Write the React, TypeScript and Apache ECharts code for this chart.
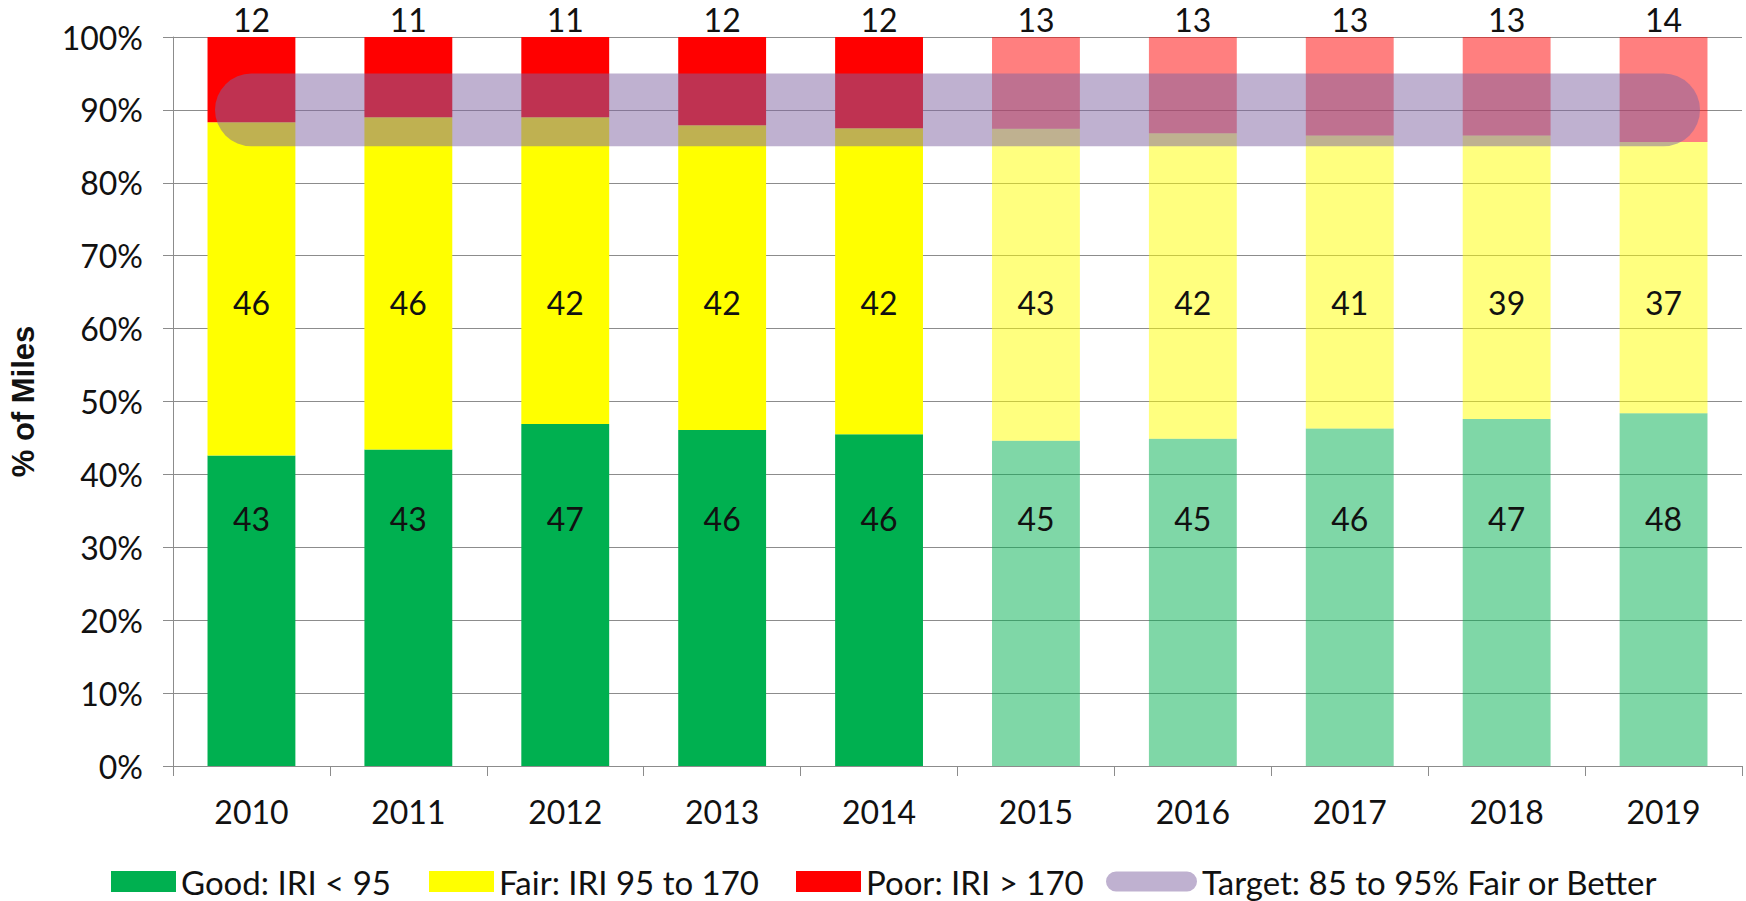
import React, { useEffect, useRef } from "react";
import * as echarts from "echarts";

// ---- data ----
const categories = ["2010", "2011", "2012", "2013", "2014", "2015", "2016", "2017", "2018", "2019"];
const isProjection = [false, false, false, false, false, true, true, true, true, true];

// bar segment heights, % of miles
const goodPct = [42.6, 43.4, 46.9, 46.1, 45.5, 44.6, 44.9, 46.3, 47.6, 48.4];
const fairPct = [45.7, 45.6, 42.1, 41.8, 42.0, 42.8, 41.9, 40.2, 38.9, 37.2];
const poorPct = [11.7, 11.0, 11.0, 12.1, 12.5, 12.6, 13.2, 13.5, 13.5, 14.4];

// data labels as printed on the chart
const goodLabels = [43, 43, 47, 46, 46, 45, 45, 46, 47, 48];
const fairLabels = [46, 46, 42, 42, 42, 43, 42, 41, 39, 37];
const poorLabels = [12, 11, 11, 12, 12, 13, 13, 13, 13, 14];

// target band 85–95 %
const targetMid = [90, 90, 90, 90, 90, 90, 90, 90, 90, 90];
const targetRange = [85, 95];

const seriesNames = [
  "Good: IRI < 95",
  "Fair: IRI 95 to 170",
  "Poor: IRI > 170",
  "Target: 85 to 95% Fair or Better",
];

// ---- layout / style ----
const W = 1746;
const H = 901;
const GRID = { left: 167, right: 4, top: 37, bottom: 135 };
const PX_PER_PCT = (H - GRID.top - GRID.bottom) / 100;
const FONT = 'Lato, "Open Sans", "Liberation Sans", sans-serif';
const FS = 32;
const LEGEND_FS = 33;
const TXT = "#111111";
const AXIS = "#8c8c8c";
const GOOD_LABEL_AT = 33.9;
const FAIR_LABEL_AT = 63.6;

const COLORS = {
  good: ["#00B050", "rgba(0,176,80,0.5)"],
  fair: ["#FFFF00", "rgba(255,255,0,0.5)"],
  poor: ["#FF0000", "rgba(255,0,0,0.5)"],
  target: "rgba(128,100,162,0.5)",
};

function barItems(values: number[], base: number[] | null, labelAt: number | null, colors: string[]) {
  return values.map((v, i) => {
    const b = base ? base[i] : 0;
    const item: any = {
      value: v,
      itemStyle: { color: isProjection[i] ? colors[1] : colors[0] },
    };
    if (labelAt != null) {
      item.label = { offset: [0, (b + v / 2 - labelAt) * PX_PER_PCT] };
    }
    return item;
  });
}

const labelStyle = {
  show: true,
  color: TXT,
  fontFamily: FONT,
  fontSize: FS,
};

const legendBase = {
  top: 865,
  padding: 0,
  itemGap: 0,
  itemWidth: 65,
  itemHeight: 21,
  selectedMode: false,
  textStyle: { color: TXT, fontFamily: FONT, fontSize: LEGEND_FS },
};

export default function App() {
  const ref = useRef<HTMLDivElement>(null);

  useEffect(() => {
    if (!ref.current) return;
    const chart = echarts.init(ref.current, null, { renderer: "svg" });

    const option: any = {
      animation: false,
      backgroundColor: "#ffffff",
      grid: { ...GRID, containLabel: false },
      xAxis: {
        type: "category",
        data: categories,
        axisLine: { show: true, lineStyle: { color: AXIS, width: 1 } },
        axisTick: { show: true, length: 10, lineStyle: { color: AXIS } },
        axisLabel: { color: TXT, fontFamily: FONT, fontSize: FS, margin: 29 },
        splitLine: { show: false },
      },
      yAxis: {
        type: "value",
        min: 0,
        max: 100,
        interval: 10,
        name: "% of Miles",
        nameLocation: "middle",
        nameRotate: 90,
        nameGap: 134,
        nameTextStyle: {
          color: TXT,
          fontFamily: '"Liberation Sans", Arial, sans-serif',
          fontWeight: "bold",
          fontSize: 31,
        },
        axisLine: { show: true, lineStyle: { color: AXIS, width: 1 } },
        axisTick: { show: true, length: 10, lineStyle: { color: AXIS } },
        axisLabel: {
          color: TXT,
          fontFamily: FONT,
          fontSize: FS,
          margin: 30,
          formatter: "{value}%",
        },
        splitLine: { show: true, lineStyle: { color: AXIS, width: 1 } },
      },
      legend: [
        { ...legendBase, left: 111, data: [{ name: seriesNames[0], icon: "rect" }] },
        { ...legendBase, left: 429, data: [{ name: seriesNames[1], icon: "rect" }] },
        { ...legendBase, left: 796, data: [{ name: seriesNames[2], icon: "rect" }] },
        {
          ...legendBase,
          left: 1106,
          itemWidth: 91,
          data: [
            {
              name: seriesNames[3],
              icon: "path://M10,0 L81,0 A10,10 0 0 1 81,20 L10,20 A10,10 0 0 1 10,0 Z",
              itemStyle: { color: COLORS.target, borderWidth: 0 },
            },
          ],
        },
      ],
      series: [
        {
          name: seriesNames[0],
          type: "bar",
          stack: "total",
          barWidth: "56%",
          itemStyle: { color: COLORS.good[0] },
          label: {
            ...labelStyle,
            position: "inside",
            formatter: (p: any) => String(goodLabels[p.dataIndex]),
          },
          data: barItems(goodPct, null, GOOD_LABEL_AT, COLORS.good),
        },
        {
          name: seriesNames[1],
          type: "bar",
          stack: "total",
          barWidth: "56%",
          itemStyle: { color: COLORS.fair[0] },
          label: {
            ...labelStyle,
            position: "inside",
            formatter: (p: any) => String(fairLabels[p.dataIndex]),
          },
          data: barItems(fairPct, goodPct, FAIR_LABEL_AT, COLORS.fair),
        },
        {
          name: seriesNames[2],
          type: "bar",
          stack: "total",
          barWidth: "56%",
          itemStyle: { color: COLORS.poor[0] },
          label: {
            ...labelStyle,
            position: "top",
            distance: 2,
            formatter: (p: any) => String(poorLabels[p.dataIndex]),
          },
          data: barItems(poorPct, null, null, COLORS.poor),
        },
        {
          name: seriesNames[3],
          type: "line",
          z: 5,
          symbol: "none",
          clip: false,
          itemStyle: { color: COLORS.target },
          lineStyle: {
            color: COLORS.target,
            width: (targetRange[1] - targetRange[0]) * PX_PER_PCT,
            cap: "round",
            join: "round",
          },
          data: targetMid,
        },
      ],
    };

    chart.setOption(option);
    return () => chart.dispose();
  }, []);

  return (
    <div
      ref={ref}
      style={{ position: "absolute", left: 0, top: 0, width: W, height: H, background: "#fff" }}
    />
  );
}
